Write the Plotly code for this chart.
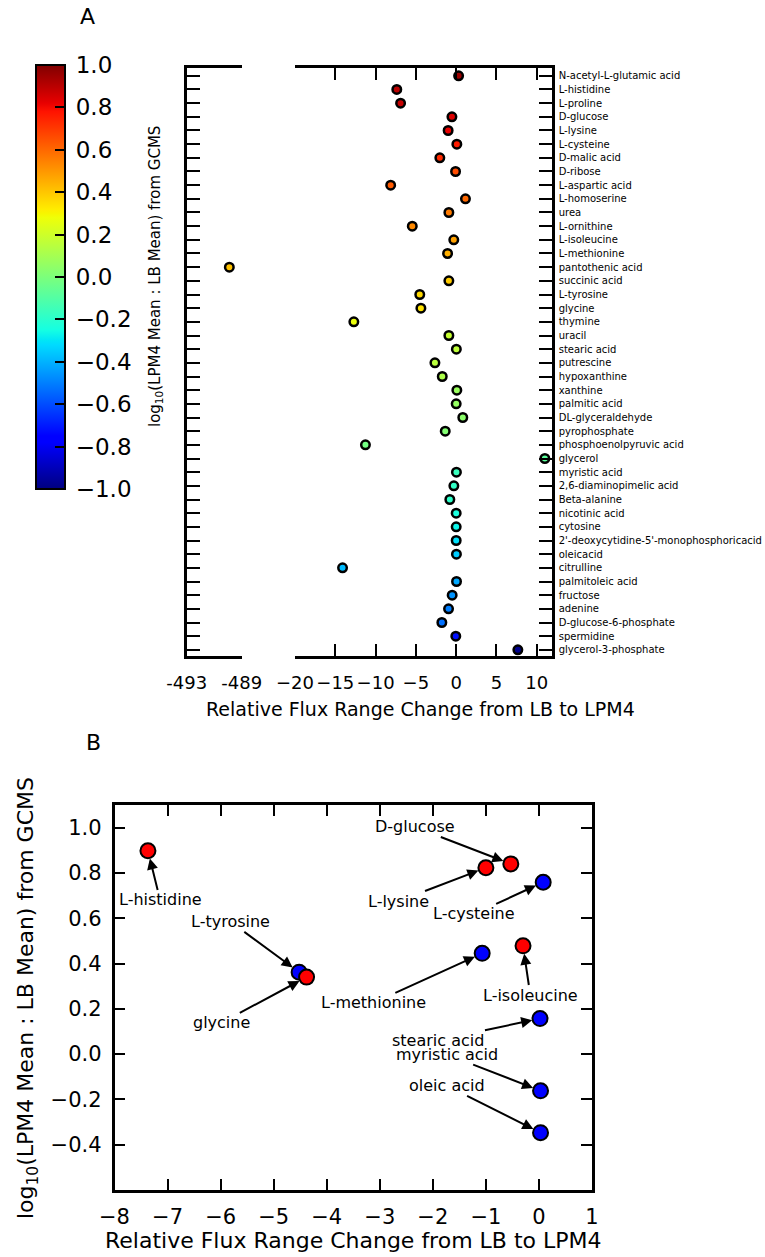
import numpy as np
import plotly.graph_objects as go

W, H = 765, 1257

# ---------------- Panel A data (top to bottom) ----------------
names_A = [
    "N-acetyl-L-glutamic acid", "L-histidine", "L-proline", "D-glucose", "L-lysine",
    "L-cysteine", "D-malic acid", "D-ribose", "L-aspartic acid", "L-homoserine",
    "urea", "L-ornithine", "L-isoleucine", "L-methionine", "pantothenic acid",
    "succinic acid", "L-tyrosine", "glycine", "thymine", "uracil", "stearic acid",
    "putrescine", "hypoxanthine", "xanthine", "palmitic acid", "DL-glyceraldehyde",
    "pyrophosphate", "phosphoenolpyruvic acid", "glycerol", "myristic acid",
    "2,6-diaminopimelic acid", "Beta-alanine", "nicotinic acid", "cytosine",
    "2'-deoxycytidine-5'-monophosphoricacid", "oleicacid", "citrulline",
    "palmitoleic acid", "fructose", "adenine", "D-glucose-6-phosphate",
    "spermidine", "glycerol-3-phosphate",
]
flux_A = [
    0.3, -7.37, -6.9, -0.53, -1.0, 0.08, -2.03, -0.08, -8.13, 1.15,
    -0.91, -5.45, -0.3, -1.07, -489.9, -0.91, -4.52, -4.38, -12.7, -0.91,
    0.02, -2.64, -1.73, 0.08, 0.0, 0.82, -1.36, -11.26, 11.0, 0.03,
    -0.29, -0.79, 0.0, 0.0, 0.0, 0.03, -14.1, 0.04, -0.5, -0.95,
    -1.78, -0.05, 7.65,
]
log_A = [
    0.95, 0.90, 0.88, 0.84, 0.82, 0.76, 0.73, 0.66, 0.63, 0.60,
    0.56, 0.53, 0.48, 0.45, 0.41, 0.39, 0.36, 0.34, 0.27, 0.18,
    0.16, 0.15, 0.12, 0.07, 0.06, 0.04, 0.02, -0.02, -0.08, -0.16,
    -0.18, -0.19, -0.24, -0.27, -0.31, -0.35, -0.38, -0.42, -0.46, -0.50,
    -0.53, -0.72, -0.98,
]
rows_A = list(range(len(names_A)))

left_ticks = [-493, -489]
left_ticktext = ["-493", "-489"]
right_ticks = [-20, -15, -10, -5, 0, 5, 10]
cbar_ticks = [-1.0, -0.8, -0.6, -0.4, -0.2, 0.0, 0.2, 0.4, 0.6, 0.8, 1.0]
cbar_ticktext = ["\u2009" + ("%.1f" % v).replace("-", "\u2212") for v in cbar_ticks]

# ---------------- Panel B data ----------------
names_B = ["L-histidine", "L-tyrosine", "glycine", "D-glucose", "L-lysine",
           "L-cysteine", "L-methionine", "L-isoleucine", "stearic acid",
           "myristic acid", "oleic acid"]
flux_B = [-7.37, -4.52, -4.38, -0.53, -1.0, 0.08, -1.07, -0.3, 0.02, 0.03, 0.03]
log_B = [0.898, 0.362, 0.340, 0.840, 0.823, 0.759, 0.445, 0.478, 0.157, -0.162, -0.347]
group_B = ["red", "blue", "red", "red", "red", "blue", "blue", "red", "blue", "blue", "blue"]
label_x_B = [-7.14, -5.81, -5.99, -2.34, -2.64, -1.215, -3.12, -0.163, -1.894, -1.724, -1.73]
label_y_B = [0.681, 0.584, 0.138, 1.003, 0.676, 0.619, 0.226, 0.261, 0.062, -0.002, -0.140]
xticks_B = [-8, -7, -6, -5, -4, -3, -2, -1, 0, 1]
yticks_B = [-0.4, -0.2, 0.0, 0.2, 0.4, 0.6, 0.8, 1.0]

# ---------------- matplotlib "jet" colormap ----------------
jet = {
    "red": ((0., 0), (0.35, 0), (0.66, 1), (0.89, 1), (1, 0.5)),
    "green": ((0., 0), (0.125, 0), (0.375, 1), (0.64, 1), (0.91, 0), (1, 0)),
    "blue": ((0., 0.5), (0.11, 1), (0.34, 1), (0.65, 0), (1, 0)),
}
stops = sorted(set(p for ch in jet.values() for p, _ in ch))
def chan(name, t):
    xs, ys = zip(*jet[name])
    return np.interp(t, xs, ys)
jet_scale = [[t, "rgb(%d,%d,%d)" % tuple(int(round(255 * chan(c, t))) for c in ("red", "green", "blue"))]
             for t in stops]

def px_x(p):
    return p / W
def px_y(p):
    return 1 - p / H

FONT = "DejaVu Sans"

fig = go.Figure()

# Panel A - left broken segment
fig.add_trace(go.Scatter(
    x=flux_A, y=rows_A, mode="markers", xaxis="x", yaxis="y",
    marker=dict(color=log_A, colorscale=jet_scale, cmin=-1, cmax=1, size=8.5,
                line=dict(color="black", width=2.5), showscale=False),
    cliponaxis=True, showlegend=False, hoverinfo="skip",
))
# Panel A - right segment (with colorbar)
fig.add_trace(go.Scatter(
    x=flux_A, y=rows_A, mode="markers", xaxis="x2", yaxis="y2",
    marker=dict(color=log_A, colorscale=jet_scale, cmin=-1, cmax=1, size=8.5,
                line=dict(color="black", width=2.5), showscale=True,
                colorbar=dict(
                    x=px_x(36), xanchor="left", xpad=0, ypad=0,
                    y=px_y(277), yanchor="middle",
                    len=424, lenmode="pixels", thickness=29, thicknessmode="pixels",
                    outlinewidth=2, outlinecolor="black",
                    tickvals=cbar_ticks, ticktext=cbar_ticktext,
                    ticks="inside", ticklen=11, tickwidth=1.5, tickcolor="black",
                    tickfont=dict(size=23, family=FONT, color="black"),
                )),
    cliponaxis=True, showlegend=False, hoverinfo="skip",
))

# Panel B
fig.add_trace(go.Scatter(
    x=flux_B, y=log_B, mode="markers", xaxis="x3", yaxis="y3",
    marker=dict(color=group_B, size=15, line=dict(color="black", width=2)),
    showlegend=False, hoverinfo="skip",
))

domA_y = [px_y(656), px_y(68.3)]
common_axis = dict(showgrid=False, zeroline=False, showline=True, linecolor="black",
                   ticks="inside", tickcolor="black", automargin=False, tickangle=0)

fig.update_layout(
    width=W, height=H,
    margin=dict(l=0, r=0, t=0, b=0, autoexpand=False),
    paper_bgcolor="white", plot_bgcolor="white",
    font=dict(family=FONT, color="black"),
    xaxis=dict(**common_axis, domain=[px_x(186.7), px_x(241.7)], anchor="y",
               range=[-493, -489], tickvals=left_ticks, ticktext=left_ticktext,
               linewidth=3, ticklen=12, tickwidth=1.5, mirror="ticks",
               tickfont=dict(size=18), ticklabelstandoff=8),
    yaxis=dict(**common_axis, domain=domA_y, anchor="x", side="left",
               range=[42.45, -0.55], tickvals=rows_A, showticklabels=False,
               linewidth=3, ticklen=13, tickwidth=1.5),
    xaxis2=dict(**common_axis, domain=[px_x(295), px_x(551.7)], anchor="y2",
                range=[-20, 11.85], tickvals=right_ticks,
                linewidth=3, ticklen=12, tickwidth=1.5, mirror="ticks",
                tickfont=dict(size=18), ticklabelstandoff=8),
    yaxis2=dict(**common_axis, domain=domA_y, anchor="x2", side="right",
                range=[42.45, -0.55], tickvals=rows_A, ticktext=names_A,
                linewidth=3, ticklen=13, tickwidth=1.5,
                tickfont=dict(size=10), ticklabelstandoff=2),
    xaxis3=dict(**common_axis, domain=[px_x(114.5), px_x(592)], anchor="y3",
                range=[-8, 1], tickvals=xticks_B,
                linewidth=2.5, ticklen=11, tickwidth=1.5, mirror="ticks",
                tickfont=dict(size=21), ticklabelstandoff=6),
    yaxis3=dict(**common_axis, domain=[px_y(1190), px_y(805)], anchor="x3",
                range=[-0.6, 1.1], tickvals=yticks_B, tickformat=".1f",
                linewidth=2.5, ticklen=11, tickwidth=1.5, mirror="ticks",
                tickfont=dict(size=21), ticklabelstandoff=6),
)

def paper_text(text, x, y, size, angle=0):
    return dict(text=text, x=px_x(x), y=px_y(y), xref="paper", yref="paper",
                xanchor="center", yanchor="middle", textangle=angle,
                showarrow=False, font=dict(size=size))

annotations = [
    paper_text("A", 87, 16, 22),
    paper_text("B", 93, 742, 22),
    paper_text("log<sub>10</sub>(LPM4 Mean : LB Mean) from GCMS", 155, 277, 15, -90),
    paper_text("Relative Flux Range Change from LB to LPM4", 420, 709, 19),
    paper_text("Relative Flux Range Change from LB to LPM4", 353, 1240, 22),
    paper_text("log<sub>10</sub>(LPM4 Mean : LB Mean) from GCMS", 27, 998, 22, -90),
]
for nm, fx, lg, tx, ty in zip(names_B, flux_B, log_B, label_x_B, label_y_B):
    annotations.append(dict(
        text=nm, x=fx, y=lg, xref="x3", yref="y3",
        ax=tx, ay=ty, axref="x3", ayref="y3",
        showarrow=True, arrowhead=2, arrowsize=1.1, arrowwidth=2,
        arrowcolor="black", standoff=8, borderpad=0,
        font=dict(size=16, color="black"),
    ))
fig.update_layout(annotations=annotations)

fig.write_html("out.html", config={"displayModeBar": False},
               post_script="document.body.style.margin='0px';")
